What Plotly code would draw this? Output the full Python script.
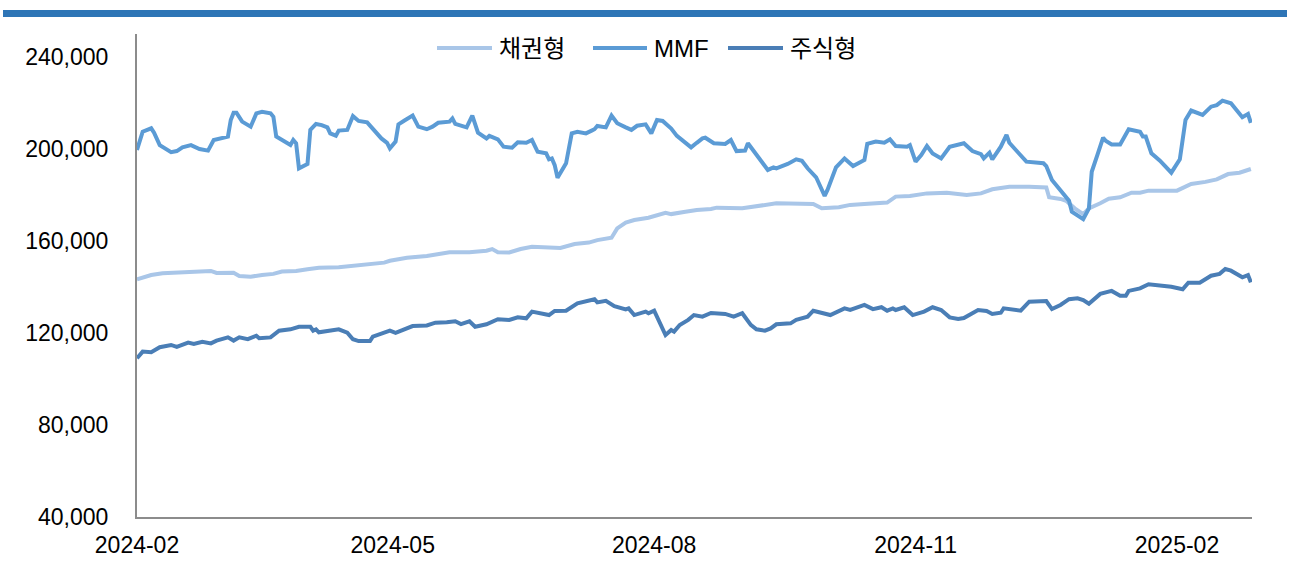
import plotly.graph_objects as go

# ---- data: fund balances (unit: 억원) ----
bond_dates = [
    "2024-02-01", "2024-02-06", "2024-02-10", "2024-02-16", "2024-02-21", "2024-02-27", "2024-02-29",
    "2024-03-06", "2024-03-08", "2024-03-12", "2024-03-16", "2024-03-20", "2024-03-23", "2024-03-28",
    "2024-04-01", "2024-04-05", "2024-04-12", "2024-04-19", "2024-04-28", "2024-04-30", "2024-05-06",
    "2024-05-13", "2024-05-21", "2024-05-28", "2024-06-03", "2024-06-05", "2024-06-07", "2024-06-11",
    "2024-06-15", "2024-06-19", "2024-06-25", "2024-06-29", "2024-07-04", "2024-07-09", "2024-07-12",
    "2024-07-17", "2024-07-19", "2024-07-22", "2024-07-25", "2024-07-30", "2024-08-05", "2024-08-07",
    "2024-08-12", "2024-08-16", "2024-08-21", "2024-08-23", "2024-09-01", "2024-09-10", "2024-09-13",
    "2024-09-26", "2024-09-29", "2024-10-05", "2024-10-09", "2024-10-14", "2024-10-22", "2024-10-25",
    "2024-10-30", "2024-11-05", "2024-11-12", "2024-11-19", "2024-11-24", "2024-11-28", "2024-12-04",
    "2024-12-11", "2024-12-17", "2024-12-18", "2024-12-22", "2024-12-24", "2024-12-27", "2024-12-30",
    "2025-01-01", "2025-01-05", "2025-01-08", "2025-01-12", "2025-01-16", "2025-01-19", "2025-01-22",
    "2025-02-01", "2025-02-03", "2025-02-06", "2025-02-11", "2025-02-15", "2025-02-19", "2025-02-23",
    "2025-02-27",
]
bond_values = [
    143300, 145200, 146000, 146200, 146700, 147000, 146100,
    146200, 144800, 144500, 145200, 145700, 146700, 147000,
    147700, 148400, 148600, 149600, 150600, 151400, 152700,
    153500, 155100, 155100, 155800, 156500, 155100, 155000,
    156500, 157500, 157300, 157000, 158700, 159300, 160400,
    161400, 165500, 168000, 169100, 170100, 172300, 171700,
    172700, 173500, 173900, 174500, 174200, 176000, 176400,
    176100, 174200, 174700, 175700, 176100, 176700, 179300,
    179600, 180700, 181000, 180000, 180700, 182500, 183600,
    183600, 183300, 179000, 178300, 177500, 174200, 171700,
    174200, 176400, 178400, 179000, 181000, 181000, 181900,
    181900, 182900, 184800, 185700, 186800, 189100, 189700,
    191300,
]

mmf_dates = [
    "2024-02-01", "2024-02-03", "2024-02-06", "2024-02-07", "2024-02-09", "2024-02-13", "2024-02-15",
    "2024-02-17", "2024-02-20", "2024-02-23", "2024-02-26", "2024-02-28", "2024-03-04", "2024-03-05",
    "2024-03-06", "2024-03-07", "2024-03-09", "2024-03-12", "2024-03-14", "2024-03-16", "2024-03-19",
    "2024-03-20", "2024-03-21", "2024-03-25", "2024-03-26", "2024-03-27", "2024-03-28", "2024-03-29",
    "2024-04-01", "2024-04-02", "2024-04-04", "2024-04-06", "2024-04-08", "2024-04-09", "2024-04-11",
    "2024-04-12", "2024-04-15", "2024-04-17", "2024-04-19", "2024-04-22", "2024-04-24", "2024-04-27",
    "2024-04-29", "2024-04-30", "2024-05-02", "2024-05-03", "2024-05-05", "2024-05-08", "2024-05-10",
    "2024-05-13", "2024-05-15", "2024-05-17", "2024-05-21", "2024-05-22", "2024-05-23", "2024-05-27",
    "2024-05-29", "2024-05-31", "2024-06-03", "2024-06-04", "2024-06-07", "2024-06-09", "2024-06-12",
    "2024-06-14", "2024-06-17", "2024-06-19", "2024-06-21", "2024-06-24", "2024-06-25", "2024-06-26",
    "2024-06-27", "2024-06-28", "2024-07-01", "2024-07-03", "2024-07-05", "2024-07-08", "2024-07-10",
    "2024-07-11", "2024-07-12", "2024-07-15", "2024-07-17", "2024-07-19", "2024-07-22", "2024-07-24",
    "2024-07-26", "2024-07-29", "2024-07-31", "2024-08-02", "2024-08-04", "2024-08-07", "2024-08-09",
    "2024-08-11", "2024-08-14", "2024-08-16", "2024-08-18", "2024-08-19", "2024-08-22", "2024-08-26",
    "2024-08-28", "2024-08-30", "2024-09-02", "2024-09-03", "2024-09-04", "2024-09-07", "2024-09-10",
    "2024-09-12", "2024-09-13", "2024-09-17", "2024-09-20", "2024-09-22", "2024-09-24", "2024-09-27",
    "2024-09-30", "2024-10-01", "2024-10-04", "2024-10-07", "2024-10-10", "2024-10-14", "2024-10-15",
    "2024-10-18", "2024-10-21", "2024-10-23", "2024-10-25", "2024-10-29", "2024-10-30", "2024-11-01",
    "2024-11-03", "2024-11-05", "2024-11-07", "2024-11-10", "2024-11-13", "2024-11-18", "2024-11-21",
    "2024-11-24", "2024-11-25", "2024-11-27", "2024-11-28", "2024-12-01", "2024-12-03", "2024-12-04",
    "2024-12-07", "2024-12-10", "2024-12-16", "2024-12-17", "2024-12-19", "2024-12-22", "2024-12-25",
    "2024-12-26", "2024-12-30", "2025-01-01", "2025-01-02", "2025-01-04", "2025-01-06", "2025-01-07",
    "2025-01-09", "2025-01-12", "2025-01-15", "2025-01-19", "2025-01-20", "2025-01-21", "2025-01-23",
    "2025-01-26", "2025-01-30", "2025-02-02", "2025-02-04", "2025-02-06", "2025-02-10", "2025-02-13",
    "2025-02-15", "2025-02-17", "2025-02-20", "2025-02-24", "2025-02-26", "2025-02-27",
]
mmf_values = [
    199600, 207500, 209000, 207100, 201700, 198600, 199100,
    200700, 201700, 200000, 199300, 203900, 205400, 212600,
    215800, 215800, 211900, 209700, 215500, 216200, 215500,
    214000, 205400, 202500, 201700, 203900, 202500, 191600,
    193500, 208300, 210900, 210400, 209400, 206800, 205800,
    208000, 208300, 214300, 212200, 211600, 208600, 204600,
    202700, 200300, 203200, 210700, 212300, 214500, 209700,
    208600, 209700, 211400, 211900, 213300, 210900, 209400,
    214500, 207100, 204600, 205700, 204200, 201000, 200600,
    202900, 202700, 203900, 198800, 198100, 195500, 195900,
    193000, 187500, 193800, 206800, 207500, 206800, 208000,
    208600, 210000, 209400, 214500, 211200, 209400, 208300,
    210100, 210700, 206800, 212600, 212200, 208900, 205700,
    203900, 200700, 202700, 204600, 204900, 202500, 202200,
    203900, 199100, 199300, 202500, 200700, 195900, 190900,
    192000, 191600, 193500, 195500, 194900, 191600, 187700,
    179600, 182200, 192000, 195900, 192600, 195200, 202200,
    203200, 202700, 204200, 201300, 201000, 201700, 194500,
    197400, 201300, 198100, 195900, 201000, 202500, 199100,
    197800, 195900, 198400, 195500, 201000, 206100, 202700,
    198600, 194500, 193800, 192600, 186500, 181900, 177500,
    172700, 169500, 174200, 190100, 197400, 204900, 203500,
    202000, 202000, 208600, 207500, 205400, 205400, 198100,
    194900, 189700, 195500, 212600, 216700, 214800, 218400,
    219100, 221000, 219900, 213800, 215200, 211400,
]

equity_dates = [
    "2024-02-01", "2024-02-03", "2024-02-06", "2024-02-09", "2024-02-13", "2024-02-15", "2024-02-19",
    "2024-02-21", "2024-02-24", "2024-02-27", "2024-02-29", "2024-03-04", "2024-03-06", "2024-03-08",
    "2024-03-11", "2024-03-14", "2024-03-15", "2024-03-19", "2024-03-22", "2024-03-26", "2024-03-29",
    "2024-04-02", "2024-04-03", "2024-04-04", "2024-04-05", "2024-04-09", "2024-04-12", "2024-04-15",
    "2024-04-17", "2024-04-19", "2024-04-23", "2024-04-24", "2024-04-26", "2024-04-30", "2024-05-02",
    "2024-05-06", "2024-05-08", "2024-05-13", "2024-05-16", "2024-05-20", "2024-05-23", "2024-05-25",
    "2024-05-28", "2024-05-30", "2024-06-03", "2024-06-07", "2024-06-11", "2024-06-14", "2024-06-17",
    "2024-06-19", "2024-06-23", "2024-06-25", "2024-06-27", "2024-07-01", "2024-07-05", "2024-07-11",
    "2024-07-12", "2024-07-15", "2024-07-18", "2024-07-22", "2024-07-23", "2024-07-25", "2024-07-29",
    "2024-07-30", "2024-08-01", "2024-08-05", "2024-08-07", "2024-08-08", "2024-08-10", "2024-08-13",
    "2024-08-15", "2024-08-18", "2024-08-21", "2024-08-26", "2024-08-29", "2024-09-01", "2024-09-04",
    "2024-09-06", "2024-09-09", "2024-09-11", "2024-09-13", "2024-09-18", "2024-09-20", "2024-09-24",
    "2024-09-26", "2024-09-29", "2024-10-02", "2024-10-07", "2024-10-09", "2024-10-14", "2024-10-17",
    "2024-10-20", "2024-10-22", "2024-10-24", "2024-10-25", "2024-10-28", "2024-10-31", "2024-11-04",
    "2024-11-07", "2024-11-10", "2024-11-13", "2024-11-16", "2024-11-18", "2024-11-23", "2024-11-26",
    "2024-11-28", "2024-12-01", "2024-12-02", "2024-12-08", "2024-12-11", "2024-12-17", "2024-12-19",
    "2024-12-22", "2024-12-25", "2024-12-28", "2024-12-30", "2025-01-01", "2025-01-05", "2025-01-09",
    "2025-01-12", "2025-01-14", "2025-01-15", "2025-01-19", "2025-01-22", "2025-01-30", "2025-02-03",
    "2025-02-05", "2025-02-09", "2025-02-13", "2025-02-16", "2025-02-18", "2025-02-20", "2025-02-24",
    "2025-02-26", "2025-02-27",
]
equity_values = [
    109000, 111900, 111600, 113800, 114800, 114000, 115800,
    115200, 116200, 115500, 116700, 118100, 116700, 118100,
    117300, 118800, 117700, 118100, 121000, 121600, 122700,
    122700, 121000, 121600, 120300, 121000, 121600, 120100,
    117300, 116500, 116500, 118400, 119400, 121000, 120100,
    122000, 123000, 123300, 124500, 124700, 125100, 123900,
    125100, 122700, 123800, 126000, 125700, 126800, 126400,
    129300, 128100, 127800, 129600, 129700, 132900, 134700,
    133300, 134000, 131700, 130300, 130700, 127800, 129300,
    128600, 129700, 119100, 121300, 120600, 123500, 125700,
    127800, 127100, 128700, 128300, 127100, 128600, 123500,
    121600, 121000, 122000, 123800, 124200, 125700, 127100,
    129700, 128600, 127800, 130700, 130000, 132200, 130400,
    131200, 129700, 130700, 130000, 131200, 127800, 129300,
    131200, 130000, 126800, 126100, 126500, 130000, 129600,
    128300, 128800, 130700, 129700, 133600, 133900, 130400,
    132200, 134700, 135100, 134300, 132700, 137000, 138300,
    136200, 136200, 138300, 139400, 141200, 140100, 139000,
    141900, 141900, 144900, 145700, 147800, 147100, 144200,
    145200, 142000,
]

series_names = ["채권형", "MMF", "주식형"]
series_colors = ["#A9C6E8", "#5B9BD5", "#4A7EB6"]

y_ticks = [40000, 80000, 120000, 160000, 200000, 240000]
x_ticks = ["2024-02-01", "2024-05-01", "2024-08-01", "2024-11-01", "2025-02-01"]
x_tick_labels = ["2024-02", "2024-05", "2024-08", "2024-11", "2025-02"]

# ---- page geometry (pixels) ----
W, H = 1290, 572
PL, PR, PT, PB = 137, 1252, 34, 517
AXIS_COLOR = "#8C8C8C"
FONT = "Liberation Sans, Arial, Noto Sans CJK KR, sans-serif"


def px_x(x):
    return (x - PL) / (PR - PL)


def px_y(y):
    return (PB - y) / (PB - PT)


fig = go.Figure()
for name, color, xs, ys in zip(
    series_names,
    series_colors,
    [bond_dates, mmf_dates, equity_dates],
    [bond_values, mmf_values, equity_values],
):
    fig.add_trace(
        go.Scatter(
            x=xs,
            y=ys,
            name=name,
            mode="lines",
            line=dict(color=color, width=4),
            showlegend=False,
        )
    )

# legend row drawn at the top centre: line sample + label
legend_items = [(437, 492, 497), (593, 647, 652), (728, 783, 788)]
shapes = []
annotations = []
for (x0, x1, tx), name, color in zip(legend_items, series_names, series_colors):
    shapes.append(
        dict(
            type="line", xref="paper", yref="paper",
            x0=px_x(x0), x1=px_x(x1), y0=px_y(48), y1=px_y(48),
            line=dict(color=color, width=4),
        )
    )
    annotations.append(
        dict(
            text=name, xref="paper", yref="paper",
            x=px_x(tx), y=px_y(48), xanchor="left", yanchor="middle",
            showarrow=False,
            font=dict(family=FONT, size=24, color="#000000"),
        )
    )

# blue banner across the top of the page
shapes.append(
    dict(
        type="rect", xref="paper", yref="paper",
        x0=px_x(3), x1=px_x(1287), y0=px_y(17), y1=px_y(10),
        fillcolor="#2E75B6", line=dict(width=0), layer="above",
    )
)

fig.update_layout(
    width=W,
    height=H,
    autosize=False,
    margin=dict(l=PL, r=W - PR, t=PT, b=H - PB, pad=0),
    paper_bgcolor="#FFFFFF",
    plot_bgcolor="#FFFFFF",
    font=dict(family=FONT, size=23, color="#000000"),
    shapes=shapes,
    annotations=annotations,
)

fig.update_xaxes(
    type="date",
    range=["2024-02-01", "2025-02-27 09:36"],
    tickvals=x_ticks,
    ticktext=x_tick_labels,
    showgrid=False,
    zeroline=False,
    showline=True,
    linecolor=AXIS_COLOR,
    linewidth=2,
    ticks="",
    ticklabelstandoff=6,
    tickfont=dict(family=FONT, size=23, color="#000000"),
)
fig.update_yaxes(
    range=[40000, 250000],
    tickvals=y_ticks,
    tickformat=",",
    showgrid=False,
    zeroline=False,
    showline=True,
    linecolor=AXIS_COLOR,
    linewidth=2,
    ticks="",
    ticklabelstandoff=22,
    tickfont=dict(family=FONT, size=23, color="#000000"),
)

fig.write_html("out.html")
